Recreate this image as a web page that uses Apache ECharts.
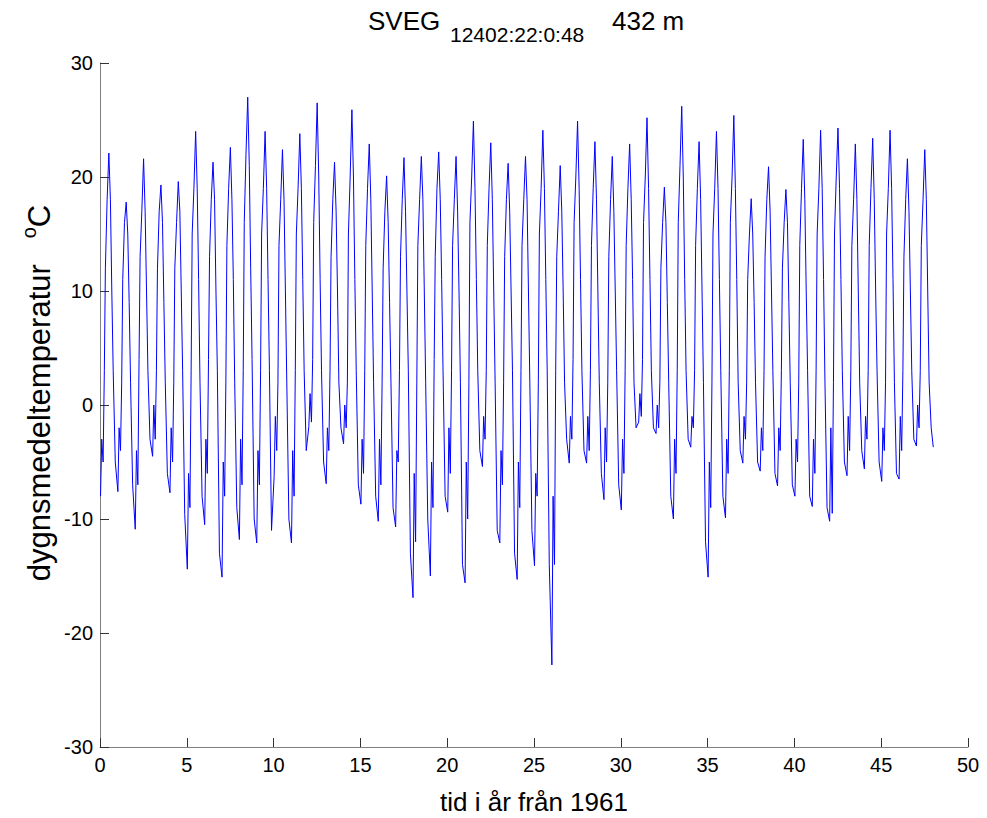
<!DOCTYPE html>
<html>
<head>
<meta charset="utf-8">
<script src="https://cdn.jsdelivr.net/npm/echarts@6/dist/echarts.min.js"></script>
<style>
html,body{margin:0;padding:0;background:#fff;}
#chart{width:987px;height:818px;}
</style>
</head>
<body>
<div id="chart"></div>
<script>
// ---- data ----
// sample dates within each year (fraction of year)
const sampleFraction = [0.03, 0.10, 0.18, 0.25, 0.31, 0.41, 0.51, 0.60, 0.68, 0.76, 0.88];
// one value per year (year 0 = 1961) for each sample date
const winterMin   = [-8.0,-7.6,-10.9,-4.5,-7.7,-14.4,-10.5,-15.1,-11.8,-12.1,-6.3,-12.1,-1.9,-6.9,-3.4,-8.7,-10.2,-10.7,-16.9,-15.0,-9.4,-15.6,-5.4,-12.1,-15.3,-14.1,-22.8,-5.1,-5.1,-8.3,-9.2,-1.5,-2.5,-10.0,-3.7,-15.1,-9.9,-5.1,-5.8,-7.1,-8.0,-8.9,-10.2,-6.2,-5.6,-6.7,-6.5,-3.6];
const lateWinter  = [-3,-2,-4,0,-2,-6,-3,-5,-3,-4,-1,-4,1,-2,0,-3,-3,-4,-6,-5,-2,-5,-1,-4,-5,-6,-8,-1,-1,-2,-3,1,0,-3,-1,-5,-3,-1,-2,-2,-3,-3,-2,-1,-1,-2,-1,0];
const springDip   = [-5,-4,-7,-3,-5,-9,-6,-8,-7,-7,-4,-8,-1.5,-4,-2,-6,-7,-5,-12,-9,-6,-10,-3,-7,-9,-8,-14,-3,-4,-5,-6,-1,-2,-6,-2,-9,-6,-3,-4,-4,-5,-6,-9.5,-4,-3,-4,-4,-2];
const spring      = [3,2,4,3,2,3,4,2,3,3,2,3,4,3,2,3,2,3,2,4,3,2,3,2,3,2,3,4,3,2,3,4,2,3,3,2,3,2,3,3,2,3,2,3,3,2,3,3];
const earlySummer = [12,11,13,12,12,15,13,14,16,15,14,15,16,13,15,14,12,13,14,13,14,16,14,13,14,15,13,16,14,13,14,16,12,16,14,15,16,11,13,12,14,15,15,14,14,15,13,14];
const midSummer   = [18,16,17,17,16,19,18,19,22,19,18,19,21,18,20,19,17,18,18,19,18,20,19,18,18,19,17,20,19,18,19,20,16,21,19,19,20,15,18,16,19,19,20,18,19,19,18,18];
const summerMax   = [22.1,17.8,21.6,19.3,19.6,24.0,21.3,22.6,27.0,24.0,22.4,23.8,26.5,21.3,25.9,22.9,20.1,21.7,21.8,22.2,21.8,24.9,23.0,21.2,21.8,24.1,21.0,24.9,23.1,21.8,22.9,25.2,19.1,26.2,23.1,24.0,25.4,18.1,20.9,18.9,23.3,24.1,24.3,22.9,23.4,24.1,21.6,22.4];
const lateSummer  = [18,15,17,16,17,19,18,18,21,19,18,19,20,17,20,18,16,17,18,18,17,19,18,17,18,19,17,19,18,17,18,19,16,20,18,19,19,15,17,16,18,19,19,18,18,19,17,18];
const autumn      = [10,9,10,9,10,11,10,11,12,11,10,11,11,10,11,10,9,10,10,11,10,11,10,10,10,11,10,11,10,10,11,11,9,11,10,11,11,9,10,9,10,11,11,10,10,11,10,10];
const lateAutumn  = [3,2,3,2,3,2,3,2,4,3,2,3,3,2,3,2,2,3,2,3,2,3,2,3,2,3,2,3,2,3,2,3,2,3,2,3,2,2,3,2,3,2,3,2,3,2,3,2];
const earlyWinter = [-5,-7,-3,-6,-9.6,-8,-13,-9,-10,-11,-10,-4,-5,-2,-7,-8,-9,-13,-10,-8,-14,-4,-11,-13,-11,-14,-3,-4,-6,-7,-2,-2,-8,-3,-12,-8,-4,-5,-6,-7,-8,-9,-5,-4,-5,-6,-3,-2];
const lastPoint   = [48.0, -3.7];

const xTicks = [0,5,10,15,20,25,30,35,40,45,50];
const yTicks = [-30,-20,-10,0,10,20,30];

const roles = [winterMin, lateWinter, springDip, spring, earlySummer, midSummer, summerMax, lateSummer, autumn, lateAutumn, earlyWinter];
const seriesData = [];
for (let k = 0; k < summerMax.length; k++) {
  for (let j = 0; j < sampleFraction.length; j++) {
    seriesData.push([k + sampleFraction[j], roles[j][k]]);
  }
}
seriesData.push(lastPoint);

const FONT = "'Liberation Sans', Arial, Helvetica, sans-serif";
const chart = echarts.init(document.getElementById('chart'), null, {renderer: 'svg', width: 987, height: 818});
chart.setOption({
  animation: false,
  backgroundColor: '#ffffff',
  grid: {left: 100, right: 19, top: 63, bottom: 71, containLabel: false, outerBoundsMode: 'none'},
  xAxis: {
    type: 'value', min: xTicks[0], max: xTicks[xTicks.length-1], interval: 5,
    name: 'tid i år från 1961', nameLocation: 'middle', nameGap: 42,
    nameTextStyle: {fontFamily: FONT, fontSize: 26, color: '#000'},
    axisLine: {show: true, onZero: false, lineStyle: {color: '#808080', width: 1}},
    axisTick: {show: true, inside: true, length: 9, lineStyle: {color: '#333', width: 1}},
    axisLabel: {fontFamily: FONT, fontSize: 20, color: '#000', margin: 8},
    splitLine: {show: false}
  },
  yAxis: {
    type: 'value', min: yTicks[0], max: yTicks[yTicks.length-1], interval: 10,
    axisLine: {show: true, onZero: false, lineStyle: {color: '#808080', width: 1}},
    axisTick: {show: true, inside: true, length: 9, lineStyle: {color: '#333', width: 1}},
    axisLabel: {fontFamily: FONT, fontSize: 20, color: '#000', margin: 7},
    splitLine: {show: false}
  },
  graphic: [
    {type: 'text', left: 368, top: 8, style: {text: 'SVEG', font: '26px ' + FONT, fill: '#000'}},
    {type: 'text', left: 450, top: 24, style: {text: '12402:22:0:48', font: '21px ' + FONT, fill: '#000'}},
    {type: 'text', left: 612, top: 8, style: {text: '432 m', font: '26px ' + FONT, fill: '#000'}},
    {type: 'text', x: 37, y: 393, rotation: Math.PI / 2,
      style: {
        text: '{a|dygnsmedeltemperatur   }{sup|o}{a|C}',
        align: 'center', verticalAlign: 'middle', textAlign: 'center', textVerticalAlign: 'middle',
        fill: '#000',
        rich: {
          a: {fontFamily: FONT, fontSize: 31, fill: '#000', color: '#000', lineHeight: 36, verticalAlign: 'bottom'},
          sup: {fontFamily: FONT, fontSize: 20, fill: '#000', color: '#000', lineHeight: 18, verticalAlign: 'top'}
        }
      }}
  ],
  series: [{
    type: 'line', data: seriesData, showSymbol: false, symbol: 'none', sampling: 'none',
    lineStyle: {color: '#0000ff', width: 1}, silent: true
  }]
});
</script>
</body>
</html>
